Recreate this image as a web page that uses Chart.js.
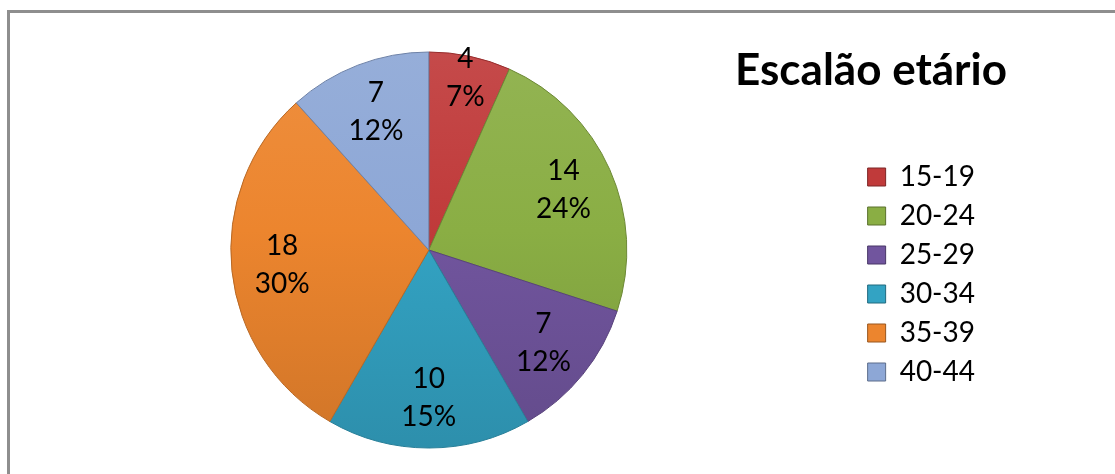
<!DOCTYPE html>
<html>
<head>
<meta charset="utf-8">
<script src="https://cdn.jsdelivr.net/npm/chart.js@4/dist/chart.umd.min.js"></script>
<style>
    body { margin: 0; background: #fff; overflow: hidden; }
    #frame { position: absolute; left: 7px; top: 10px; width: 1200px; height: 600px; border: 3px solid #8e8e8e; box-sizing: border-box; }
    #wrap { position: absolute; left: 0; top: 0; width: 1115px; height: 474px; }
</style>
</head>
<body>
<div id="frame"></div>
<div id="wrap"><canvas id="chart"></canvas></div>
<script>
const chartTitle = 'Escalão etário';
const ageGroups = ['15-19', '20-24', '25-29', '30-34', '35-39', '40-44'];
const counts = [4, 14, 7, 10, 18, 7];
const percentLabels = ['7%', '24%', '12%', '15%', '30%', '12%'];
const sliceColors = ['#C03A3A', '#8AAE44', '#71559E', '#33A3C3', '#EC852E', '#8DA7D6'];

const pieRadius = 198;
const labelFont = '28px Lato';

// lighten (amt > 0) or darken (amt < 0) a hex colour
function shade(hex, amt) {
    const n = parseInt(hex.slice(1), 16);
    let r = (n >> 16) & 255, g = (n >> 8) & 255, b = n & 255;
    const f = c => Math.round(amt >= 0 ? c + (255 - c) * amt : c * (1 + amt));
    return 'rgb(' + f(r) + ',' + f(g) + ',' + f(b) + ')';
}

// top-lit shading across the whole pie
function sliceFill(context) {
    const base = sliceColors[context.dataIndex];
    const area = context.chart.chartArea;
    if (!area) return base;
    const cy = (area.top + area.bottom) / 2;
    const g = context.chart.ctx.createLinearGradient(0, cy - pieRadius, 0, cy + pieRadius);
    g.addColorStop(0, shade(base, 0.08));
    g.addColorStop(0.45, base);
    g.addColorStop(1, shade(base, -0.12));
    return g;
}

// value and percentage written inside each slice
const sliceLabels = {
    id: 'sliceLabels',
    afterDatasetsDraw(chart) {
        const ctx = chart.ctx;
        const meta = chart.getDatasetMeta(0);
        ctx.save();
        ctx.font = labelFont;
        ctx.fillStyle = '#000';
        ctx.textAlign = 'center';
        ctx.textBaseline = 'middle';
        meta.data.forEach((arc, i) => {
            const p = arc.getProps(['x', 'y', 'startAngle', 'endAngle', 'outerRadius'], true);
            const mid = (p.startAngle + p.endAngle) / 2;
            const span = p.endAngle - p.startAngle;
            // narrow slices get their label pushed towards the rim
            const r = p.outerRadius * (span < 0.5 ? 0.89 : 0.745);
            const cx = p.x + Math.cos(mid) * r;
            const cy = p.y + Math.sin(mid) * r;
            ctx.fillText(String(counts[i]), cx, cy - 19);
            ctx.fillText(percentLabels[i], cx, cy + 19);
        });
        ctx.restore();
    }
};

// heading above the legend
const cornerTitle = {
    id: 'cornerTitle',
    afterDraw(chart, args, opts) {
        const ctx = chart.ctx;
        ctx.save();
        ctx.font = 'bold 44px Lato';
        ctx.fillStyle = '#000';
        ctx.textAlign = 'center';
        ctx.textBaseline = 'alphabetic';
        ctx.fillText(opts.text, opts.x, opts.y);
        ctx.restore();
    }
};

const ctx = document.getElementById('chart').getContext('2d');
new Chart(ctx, {
    type: 'pie',
    data: {
        labels: ageGroups,
        datasets: [{
            data: counts,
            backgroundColor: sliceFill,
            borderColor: sliceColors.map(c => shade(c, -0.22)),
            borderWidth: 1,
            clip: false
        }]
    },
    options: {
        responsive: true,
        maintainAspectRatio: false,
        animation: false,
        events: [],
        radius: pieRadius,
        layout: {
            padding: { left: 1, right: 130, top: 103, bottom: 77 }
        },
        plugins: {
            tooltip: { enabled: false },
            legend: {
                position: 'right',
                align: 'end',
                labels: {
                    boxWidth: 18,
                    boxHeight: 18,
                    padding: 11,
                    color: '#000',
                    font: { family: 'Lato', size: 28 },
                    generateLabels(chart) {
                        const items = Chart.overrides.doughnut.plugins.legend.labels.generateLabels(chart);
                        return items.map((item, i) => Object.assign(item, {
                            fillStyle: sliceColors[i],
                            strokeStyle: shade(sliceColors[i], -0.35),
                            lineWidth: 1
                        }));
                    }
                }
            },
            cornerTitle: { text: chartTitle, x: 871, y: 85 }
        }
    },
    plugins: [sliceLabels, cornerTitle]
});
</script>
</body>
</html>
